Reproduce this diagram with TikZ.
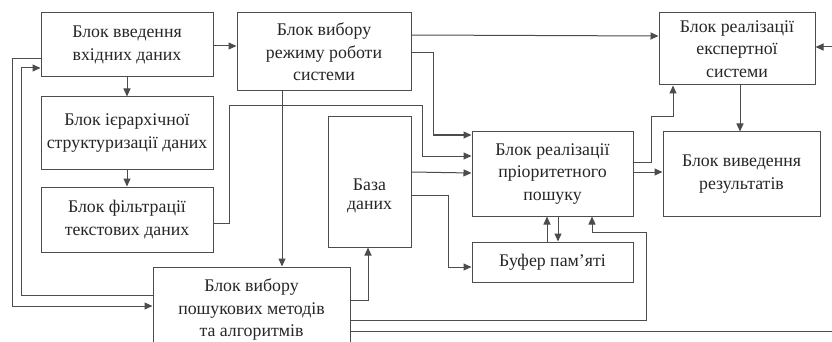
\documentclass[tikz,border=0pt]{standalone}
\usepackage{fontspec}
\setmainfont{LiberationSerif}[Extension=.ttf, UprightFont=*-Regular, BoldFont=*-Bold]
\usetikzlibrary{arrows.meta}
\begin{document}
\begin{tikzpicture}[x=1pt,y=-1pt,
  blk/.style={draw=black!70, line width=1pt, align=center, text=black!85,
    font=\fontsize{17.8}{22.5}\selectfont, inner sep=0pt},
  txt/.style={align=center, text=black!85, font=\fontsize{17.8}{19}\selectfont, inner sep=0pt},
  con/.style={draw=black!70, line width=1pt},
  arr/.style={con, -{Triangle[length=8pt,width=7pt]}}]
\useasboundingbox (0,0) rectangle (832,342);
\clip (0,0) rectangle (832,342);
\fill[white] (0,0) rectangle (832,342);
% boxes
\node[blk, minimum width=172pt, minimum height=64pt] (B1) at (127,45) {Блок введення\\вхідних даних};
\node[blk, minimum width=174pt, minimum height=78pt] (B2) at (324,52) {Блок вибору\\режиму роботи\\системи};
\node[blk, minimum width=156pt, minimum height=72pt] (B3) at (737,49) {Блок реалізації\\експертної\\системи};
\node[blk, minimum width=172pt, minimum height=72pt] (B4) at (127,133) {Блок ієрархічної\\структуризації даних};
\node[blk, minimum width=172pt, minimum height=65pt] (B5) at (127,219.5) {Блок фільтрації\\текстових даних};
\node[blk, minimum width=83pt, minimum height=130pt] (B6) at (369.5,182) {};
\node[txt] (B6t) at (369.5,196) {База\\даних};
\node[blk, minimum width=161pt, minimum height=84pt] (B7) at (552.5,174) {Блок реалізації\\пріоритетного\\пошуку};
\node[blk, minimum width=157pt, minimum height=84pt] (B8) at (741.5,174) {Блок виведення\\результатів};
\node[blk, minimum width=161pt, minimum height=40pt] (B9) at (552.5,262) {Буфер пам’яті};
\node[blk, minimum width=197pt, minimum height=86pt] (B10) at (251.5,310) {Блок вибору\\пошукових методів\\та алгоритмів};
% connectors
\draw[arr] (B1.east |- 0,46) -- (B2.west |- 0,46);
\draw[arr] (B1.south) -- (B4.north);
\draw[arr] (B4.south) -- (B5.north);
\draw[arr] (B2.east |- 0,35) -- (B3.west |- 0,36);
\draw[arr] (B2.east |- 0,53) -- (433,53) -- (433,135) -- (B7.west |- 0,135);
\draw[arr] (B5.east |- 0,223) -- (229,223) -- (229,106) -- (422,106) -- (422,156) -- (B7.west |- 0,156);
\draw[arr] (B6.east |- 0,172) -- (B7.west |- 0,173);
\draw[arr] (B6.east |- 0,195) -- (448,195) -- (448,267) -- (B9.west |- 0,267);
\draw[arr] (B2.south -| 282,0) -- (B10.north -| 282,0);
\draw[arr] (B10.east |- 0,300) -- (368,300) -- (B6.south -| 368,0);
\draw[arr] (B9.north -| 547,0) -- (B7.south -| 547,0);
\draw[arr] (B7.south -| 558,0) -- (B9.north -| 558,0);
\draw[arr] (B10.east |- 0,320) -- (646,320) -- (646,232) -- (592,232) -- (B7.south -| 592,0);
\draw[arr] (B10.east |- 0,331) -- (845,331) -- (845,47) -- (B3.east |- 0,47);
\draw[arr] (B7.east |- 0,162) -- (651,162) -- (651,117) -- (673,117) -- (B3.south -| 673,0);
\draw[arr] (B7.east |- 0,172) -- (B8.west |- 0,172);
\draw[arr] (B3.south -| 740,0) -- (B8.north -| 740,0);
\draw[arr] (B10.west |- 0,295) -- (21,295) -- (21,68) -- (B1.west |- 0,68);
\draw[arr] (B1.west |- 0,59) -- (12,59) -- (12,306) -- (B10.west |- 0,306);
\end{tikzpicture}
\end{document}
